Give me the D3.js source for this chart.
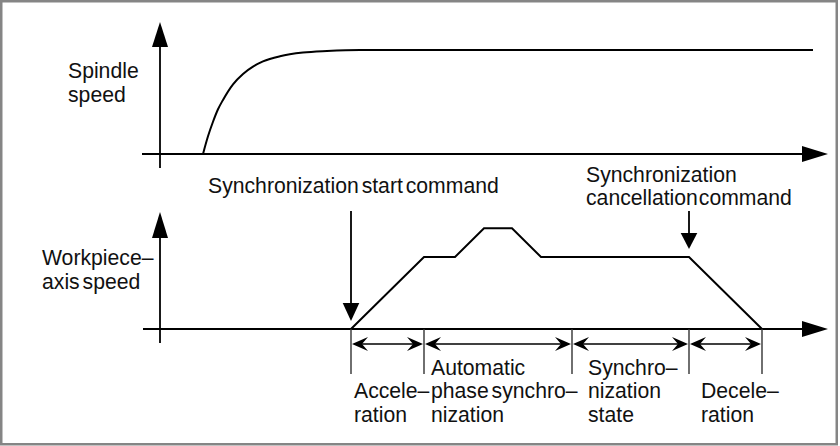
<!DOCTYPE html>
<html>
<head>
<meta charset="utf-8">
<script src="https://cdn.jsdelivr.net/npm/d3@7"></script>
<style>
  body { margin: 0; background: #fff; }
  svg { display: block; }
  text { font-family: "Liberation Sans", Arial, Helvetica, sans-serif; font-size: 21.2px; fill: #111; word-spacing: -3px; }
</style>
</head>
<body>
<script>
// time axis is shared by both panels (arbitrary units)
var spindleTime  = [43, 48, 53, 58, 63, 73, 83, 93, 103, 120, 143, 167, 200, 653];
var spindleSpeed = [0, 17, 31, 43, 52, 67, 77, 84, 89, 94, 97.5, 99, 100, 100];

var workTime  = [191, 264, 295, 324, 352, 381, 529, 602];
var workSpeed = [0, 100, 100, 140, 140, 100, 100, 0];

var startCommandTime = 191;
var cancelCommandTime = 529;

var phaseBounds = [191, 264, 412, 529, 602];
var phaseLabels = [
	["Accele\u2013", "ration"],
	["Automatic", "phase synchro\u2013", "nization"],
	["Synchro\u2013", "nization", "state"],
	["Decele\u2013", "ration"]
];

var spindleLabel = ["Spindle", "speed"];
var workLabel = ["Workpiece\u2013", "axis speed"];
var startLabel = ["Synchronization start command"];
var cancelLabel = ["Synchronization", "cancellation command"];

var width = 840, height = 446;

var x = d3.scaleLinear().domain([0, 668]).range([160, 828]);
var ySpindle = d3.scaleLinear().domain([0, 100]).range([154, 50]);
var yWork = d3.scaleLinear().domain([0, 100]).range([329, 257]);

var svg = d3.select("body").append("svg")
	.attr("width", width)
	.attr("height", height);

svg.append("rect")
	.attr("x", 1.25).attr("y", 1.25)
	.attr("width", 835.5).attr("height", 443)
	.attr("fill", "#fff")
	.attr("stroke", "#858585")
	.attr("stroke-width", 2.5);

function line(g, x1, y1, x2, y2, w, c) {
	g.append("line")
		.attr("x1", x1).attr("y1", y1)
		.attr("x2", x2).attr("y2", y2)
		.attr("stroke", c || "#000")
		.attr("stroke-width", w || 1.8);
}

// triangle arrow head, tip at (tx,ty), pointing dir: "up","down","right"
function head(g, tx, ty, dir, len, half) {
	var p;
	if (dir == "up") p = [[tx, ty], [tx - half, ty + len], [tx + half, ty + len]];
	if (dir == "down") p = [[tx, ty], [tx - half, ty - len], [tx + half, ty - len]];
	if (dir == "right") p = [[tx, ty], [tx - len, ty - half], [tx - len, ty + half]];
	g.append("path").attr("d", "M" + p.join("L") + "Z").attr("fill", "#000");
}

// barbed dimension arrow head
function barb(g, tx, ty, sign) {
	var l = 16, h = 7, n = 10;
	var d = "M" + tx + "," + ty +
		"L" + (tx + sign * l) + "," + (ty - h) +
		"L" + (tx + sign * n) + "," + ty +
		"L" + (tx + sign * l) + "," + (ty + h) + "Z";
	g.append("path").attr("d", d).attr("fill", "#000");
}

function label(lines, lx, ly, extra) {
	var t = svg.append("text").attr("x", lx).attr("y", ly);
	lines.forEach(function(s, i) {
		t.append("tspan").attr("x", lx).attr("dy", i == 0 ? 0 : 23.5).text(s);
	});
	if (extra) t.style("word-spacing", extra);
	return t;
}

// ---- top panel: spindle speed
var topG = svg.append("g");
line(topG, x(0), 168, x(0), 40);
head(topG, x(0), 22, "up", 25, 8);
line(topG, 142, ySpindle(0), 805, ySpindle(0));
head(topG, 828, ySpindle(0), "right", 26, 8);

var spindleData = spindleTime.map(function(t, i) { return [t, spindleSpeed[i]]; });
topG.append("path")
	.datum(spindleData)
	.attr("fill", "none")
	.attr("stroke", "#000")
	.attr("stroke-width", 2)
	.attr("d", d3.line()
		.x(function(d) { return x(d[0]); })
		.y(function(d) { return ySpindle(d[1]); })
		.curve(d3.curveMonotoneX));

label(spindleLabel, 68, 78);

// ---- bottom panel: workpiece axis speed
var botG = svg.append("g");
line(botG, x(0), 343, x(0), 232);
head(botG, x(0), 212, "up", 26, 8);
line(botG, 143, yWork(0), 805, yWork(0));
head(botG, 828, yWork(0), "right", 26, 8);

var workData = workTime.map(function(t, i) { return [t, workSpeed[i]]; });
botG.append("path")
	.datum(workData)
	.attr("fill", "none")
	.attr("stroke", "#000")
	.attr("stroke-width", 2)
	.attr("stroke-linejoin", "miter")
	.attr("d", d3.line()
		.x(function(d) { return x(d[0]); })
		.y(function(d) { return yWork(d[1]); }));

// command arrows
line(botG, x(startCommandTime), 211, x(startCommandTime), 306);
head(botG, x(startCommandTime), 321, "down", 18, 8.3);
line(botG, x(cancelCommandTime), 211, x(cancelCommandTime), 236);
head(botG, x(cancelCommandTime), 249, "down", 16, 8.3);

// phase boundaries and dimension arrows
phaseBounds.forEach(function(t) {
	line(botG, x(t), yWork(0), x(t), 374, 1.4, "#333");
});
var dimY = 344;
for (var i = 0; i < phaseBounds.length - 1; i++) {
	var a = x(phaseBounds[i]), b = x(phaseBounds[i + 1]);
	line(botG, a + 3, dimY, b - 3, dimY, 1.5);
	barb(botG, a + 1, dimY, 1);
	barb(botG, b - 1, dimY, -1);
}

var labelDx = [3, 7, 16, 12];
phaseLabels.forEach(function(lines, i) {
	var ly = 421.5 - (lines.length - 1) * 23.5;
	label(lines, x(phaseBounds[i]) + labelDx[i], ly);
});

label(workLabel, 42, 265);
label(startLabel, 208, 192.5);
label(cancelLabel, 586, 181.5, "-5px");
</script>
</body>
</html>
